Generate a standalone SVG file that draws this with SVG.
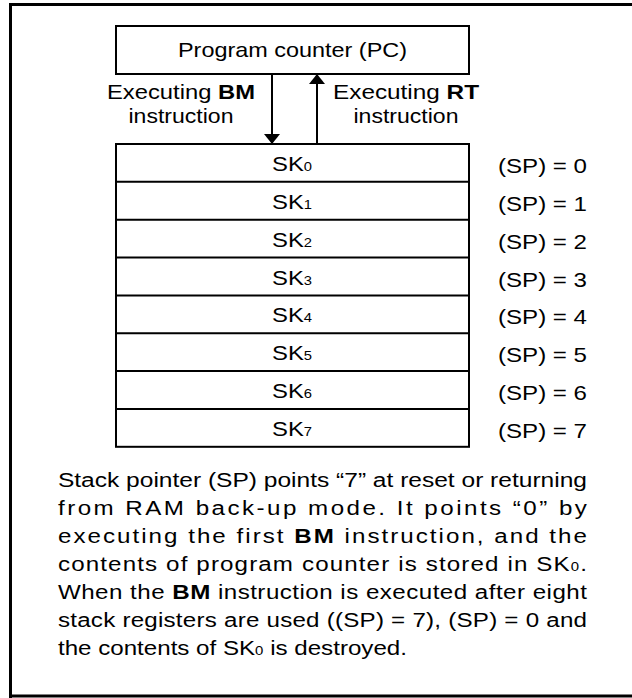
<svg xmlns="http://www.w3.org/2000/svg" width="632" height="698" viewBox="0 0 632 698">
<defs>
<style>
.t{font-family:"Liberation Sans",Arial,Helvetica,sans-serif;font-size:21px;fill:#000}
.b{font-weight:bold}
.s{font-size:13px}
.box{fill:#fff;stroke:#000;stroke-width:2}
.ln{stroke:#000;stroke-width:2;fill:none}
</style>
<marker id="ah" viewBox="0 0 10 16" refX="10" refY="8" markerWidth="10" markerHeight="16" markerUnits="userSpaceOnUse" orient="auto">
<path d="M0,0 L10,8 L0,16 Z" fill="#000"/>
</marker>
</defs>
<rect width="632" height="698" fill="#fff"/>
<path d="M10.5,698 V4.5 H632 M10.5,696 H632" stroke="#000" stroke-width="3" fill="none"/>

<g id="pc">
<rect class="box" x="116" y="26" width="353" height="48"/>
<text class="t" x="292.5" y="57" text-anchor="middle" textLength="229" lengthAdjust="spacingAndGlyphs">Program counter (PC)</text>
</g>

<g id="label-bm">
<text class="t" x="181" y="99" text-anchor="middle" textLength="148" lengthAdjust="spacingAndGlyphs">Executing <tspan class="b">BM</tspan></text>
<text class="t" x="181" y="123" text-anchor="middle" textLength="105" lengthAdjust="spacingAndGlyphs">instruction</text>
</g>
<g id="label-rt">
<text class="t" x="406" y="99" text-anchor="middle" textLength="146" lengthAdjust="spacingAndGlyphs">Executing <tspan class="b">RT</tspan></text>
<text class="t" x="406" y="123" text-anchor="middle" textLength="105" lengthAdjust="spacingAndGlyphs">instruction</text>
</g>

<g id="connectors">
<line class="ln" x1="272" y1="74" x2="272" y2="144" marker-end="url(#ah)"/>
<line class="ln" x1="317" y1="144" x2="317" y2="74" marker-end="url(#ah)"/>
</g>

<g id="stack">
<rect class="box" x="116" y="144" width="353" height="302.8"/>
<path class="ln" d="M116,181.85 H469 M116,219.7 H469 M116,257.55 H469 M116,295.4 H469 M116,333.25 H469 M116,371.1 H469 M116,408.95 H469"/>
</g>
<g id="sk0"><text class="t" x="292" y="171" text-anchor="middle" textLength="40" lengthAdjust="spacingAndGlyphs">SK<tspan class="s">0</tspan></text></g>
<g id="sk1"><text class="t" x="292" y="209" text-anchor="middle" textLength="40" lengthAdjust="spacingAndGlyphs">SK<tspan class="s">1</tspan></text></g>
<g id="sk2"><text class="t" x="292" y="247" text-anchor="middle" textLength="40" lengthAdjust="spacingAndGlyphs">SK<tspan class="s">2</tspan></text></g>
<g id="sk3"><text class="t" x="292" y="285" text-anchor="middle" textLength="40" lengthAdjust="spacingAndGlyphs">SK<tspan class="s">3</tspan></text></g>
<g id="sk4"><text class="t" x="292" y="322" text-anchor="middle" textLength="40" lengthAdjust="spacingAndGlyphs">SK<tspan class="s">4</tspan></text></g>
<g id="sk5"><text class="t" x="292" y="360" text-anchor="middle" textLength="40" lengthAdjust="spacingAndGlyphs">SK<tspan class="s">5</tspan></text></g>
<g id="sk6"><text class="t" x="292" y="398" text-anchor="middle" textLength="40" lengthAdjust="spacingAndGlyphs">SK<tspan class="s">6</tspan></text></g>
<g id="sk7"><text class="t" x="292" y="436" text-anchor="middle" textLength="40" lengthAdjust="spacingAndGlyphs">SK<tspan class="s">7</tspan></text></g>

<g id="sp-labels">
<text class="t" x="498" y="173" textLength="89" lengthAdjust="spacingAndGlyphs">(SP) = 0</text>
<text class="t" x="498" y="211" textLength="89" lengthAdjust="spacingAndGlyphs">(SP) = 1</text>
<text class="t" x="498" y="249" textLength="89" lengthAdjust="spacingAndGlyphs">(SP) = 2</text>
<text class="t" x="498" y="287" textLength="89" lengthAdjust="spacingAndGlyphs">(SP) = 3</text>
<text class="t" x="498" y="324" textLength="89" lengthAdjust="spacingAndGlyphs">(SP) = 4</text>
<text class="t" x="498" y="362" textLength="89" lengthAdjust="spacingAndGlyphs">(SP) = 5</text>
<text class="t" x="498" y="400" textLength="89" lengthAdjust="spacingAndGlyphs">(SP) = 6</text>
<text class="t" x="498" y="438" textLength="89" lengthAdjust="spacingAndGlyphs">(SP) = 7</text>
</g>

<g id="description" transform="scale(1.15 1)">
<text class="t" x="50.4" y="487" textLength="460" lengthAdjust="spacingAndGlyphs">Stack pointer (SP) points “7” at reset or returning</text>
<text class="t" x="50.4" y="515" textLength="460" lengthAdjust="spacing">from RAM back-up mode. It points “0” by</text>
<text class="t" x="50.4" y="543" textLength="460" lengthAdjust="spacing">executing the first <tspan class="b">BM</tspan> instruction, and the</text>
<text class="t" x="50.4" y="571" textLength="460" lengthAdjust="spacing">contents of program counter is stored in SK<tspan class="s">0</tspan>.</text>
<text class="t" x="50.4" y="599" textLength="460" lengthAdjust="spacing">When the <tspan class="b">BM</tspan> instruction is executed after eight</text>
<text class="t" x="50.4" y="627" textLength="460" lengthAdjust="spacing">stack registers are used ((SP) = 7), (SP) = 0 and</text>
<text class="t" x="50.4" y="655">the contents of SK<tspan class="s">0</tspan> is destroyed.</text>
</g>
</svg>
